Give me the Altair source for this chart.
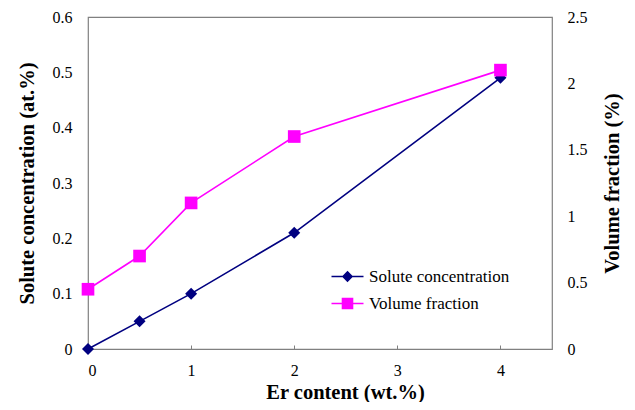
import altair as alt
import pandas as pd

er = [0, 0.5, 1, 2, 4]
solute = [0, 0.05, 0.10, 0.21, 0.49]
volume = [0.45, 0.70, 1.10, 1.60, 2.10]
series = ["Solute concentration", "Volume fraction"]
x_ticks = [0, 1, 2, 3, 4]
y_left_ticks = [0, 0.1, 0.2, 0.3, 0.4, 0.5, 0.6]
y_right_ticks = [0, 0.5, 1, 1.5, 2, 2.5]

NAVY = "#000080"
MAGENTA = "#FF00FF"
FONT = "Liberation Serif"

df_sol = pd.DataFrame({"er": er, "value": solute})
df_vol = pd.DataFrame({"er": er, "value": volume})
df_leg = pd.DataFrame({"er": er * 2, "series": [series[0]] * 5 + [series[1]] * 5})

xscale = alt.Scale(domain=[0, 4.5], nice=False)
xaxis = alt.Axis(values=x_ticks, title="Er content (wt.%)", domain=False,
                 tickSize=4, tickColor="#808080", offset=-4, labelPadding=13,
                 grid=False, titleX=257, titlePadding=4, format="~g")

x = alt.X("er:Q", scale=xscale, axis=xaxis)

yl = alt.Y("value:Q", scale=alt.Scale(domain=[0, 0.6], nice=False),
           axis=alt.Axis(values=y_left_ticks, title="Solute concentration (at.%)",
                         ticks=False, domain=False, grid=False, labelPadding=16,
                         titlePadding=15, orient="left", format="~g"))
yr = alt.Y("value:Q", scale=alt.Scale(domain=[0, 2.5], nice=False),
           axis=alt.Axis(values=y_right_ticks, title="Volume fraction (%)",
                         ticks=False, domain=False, grid=False, labelPadding=15,
                         titlePadding=15, orient="right", labelAlign="left",
                         titleAngle=270, titleBaseline="top", format="~g"))

sol_line = alt.Chart(df_sol).mark_line(color=NAVY, strokeWidth=1.6).encode(x=x, y=yl)
sol_pts = alt.Chart(df_sol).mark_point(shape="diamond", filled=True, color=NAVY,
                                       size=144, opacity=1).encode(x=x, y=yl)
left = alt.layer(sol_line, sol_pts)

vol_line = alt.Chart(df_vol).mark_line(color=MAGENTA, strokeWidth=1.6).encode(x=x, y=yr)
vol_pts = alt.Chart(df_vol).mark_point(shape="square", filled=True, color=MAGENTA,
                                       size=160, opacity=1).encode(x=x, y=yr)

diamond_path = "M-3.2,0H-0.9 M-0.9,0L0,-0.9L0.9,0L0,0.9Z M0.9,0H3.2"
square_path = "M-3.2,0H-1 M-1,-1H1V1H-1Z M1,0H3.2"

legend = alt.Legend(title=None, orient="none", legendX=251, legendY=251,
                    labelFont=FONT, labelFontSize=17, labelColor="black",
                    symbolSize=100, symbolStrokeWidth=1.6, labelOffset=13,
                    rowPadding=9, padding=0)

cscale = alt.Scale(domain=series, range=[NAVY, MAGENTA])
leg_layer = alt.Chart(df_leg).transform_filter("false").mark_point(opacity=1).encode(
    x=x,
    fill=alt.Fill("series:N", scale=cscale, legend=legend),
    stroke=alt.Stroke("series:N", scale=cscale, legend=legend),
    shape=alt.Shape("series:N", scale=alt.Scale(domain=series, range=[diamond_path, square_path]), legend=legend),
)

right = alt.layer(vol_line, vol_pts, leg_layer)

chart = alt.layer(left, right).resolve_scale(y="independent").properties(
    width=464, height=332,
    autosize=alt.AutoSizeParams(type="none"),
    padding={"left": 80, "top": 9, "right": 75, "bottom": 53},
    background="white",
).configure_view(stroke="#808080", strokeWidth=1.2).configure_axis(
    labelFont=FONT, labelFontSize=16, labelColor="black",
    titleFont=FONT, titleFontSize=20.5, titleFontWeight="bold", titleColor="black",
)

chart.save("out.html", embed_options={"renderer": "svg", "actions": False})
